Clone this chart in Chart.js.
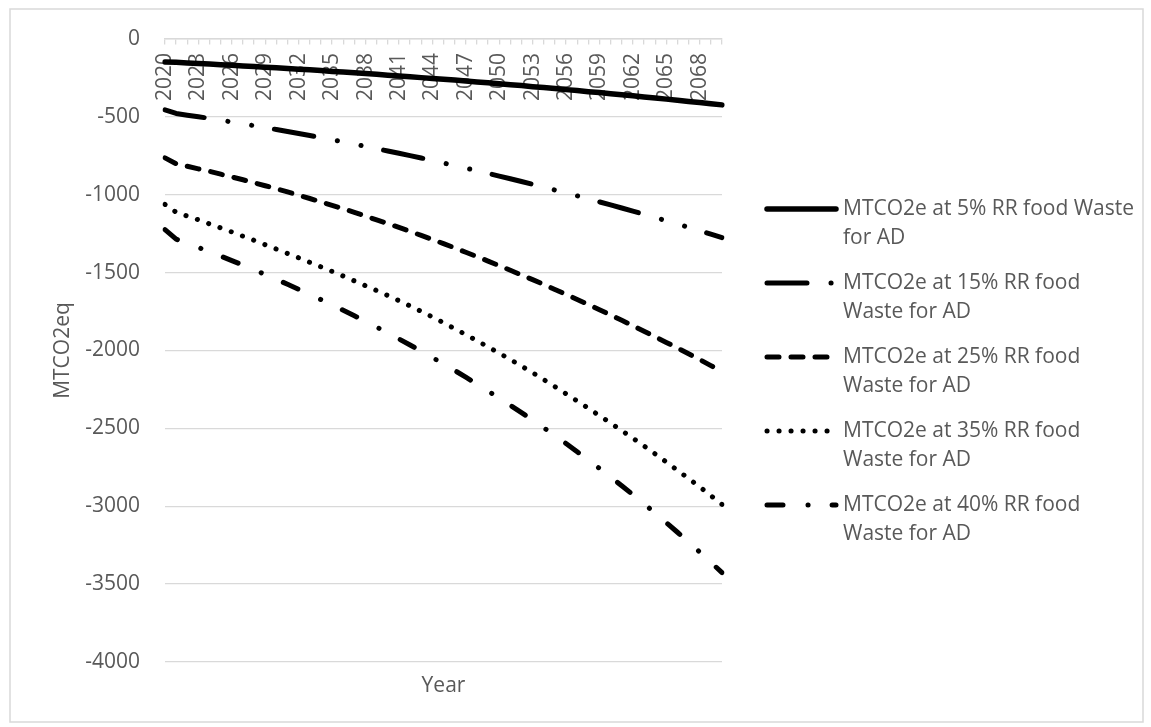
<!DOCTYPE html>
<html>
<head>
<meta charset="utf-8">
<script src="https://cdn.jsdelivr.net/npm/chart.js@4.4.1/dist/chart.umd.min.js"></script>
<style>
  body { margin: 0; background: #fff; }
</style>
</head>
<body>
<canvas id="emissions" width="1151" height="727"></canvas>
<script>
const years = ['2020', '2021', '2022', '2023', '2024', '2025', '2026', '2027', '2028', '2029',
  '2030', '2031', '2032', '2033', '2034', '2035', '2036', '2037', '2038', '2039',
  '2040', '2041', '2042', '2043', '2044', '2045', '2046', '2047', '2048', '2049',
  '2050', '2051', '2052', '2053', '2054', '2055', '2056', '2057', '2058', '2059',
  '2060', '2061', '2062', '2063', '2064', '2065', '2066', '2067', '2068', '2069', '2070'];

const seriesNames = [
  ['MTCO2e at 5% RR food Waste', 'for AD'],
  ['MTCO2e at 15% RR food', 'Waste for AD'],
  ['MTCO2e at 25% RR food', 'Waste for AD'],
  ['MTCO2e at 35% RR food', 'Waste for AD'],
  ['MTCO2e at 40% RR food', 'Waste for AD']
];

const rr5 = [-147, -150, -154, -158, -161, -165, -169, -173, -177, -181,
  -185, -190, -194, -198, -203, -208, -212, -217, -222, -227,
  -232, -237, -242, -248, -253, -259, -264, -270, -276, -281,
  -287, -293, -299, -306, -312, -318, -325, -331, -338, -344,
  -351, -358, -365, -372, -379, -386, -393, -401, -408, -416, -423];

const rr15 = [-455, -478, -489, -499, -510, -521, -533, -545, -557, -569,
  -581, -594, -607, -620, -633, -647, -661, -675, -689, -704,
  -719, -734, -749, -764, -780, -796, -813, -829, -846, -863,
  -880, -897, -915, -933, -951, -970, -988, -1007, -1026, -1046,
  -1065, -1085, -1105, -1126, -1146, -1167, -1188, -1209, -1231, -1253, -1275];

const rr25 = [-763, -801, -817, -834, -850, -868, -886, -904, -923, -942,
  -962, -982, -1003, -1024, -1046, -1068, -1090, -1113, -1137, -1161,
  -1185, -1210, -1235, -1261, -1287, -1314, -1341, -1369, -1397, -1426,
  -1455, -1485, -1515, -1545, -1576, -1608, -1640, -1672, -1705, -1738,
  -1772, -1806, -1841, -1876, -1912, -1948, -1984, -2021, -2058, -2097, -2135];

const rr35 = [-1062, -1112, -1137, -1161, -1187, -1213, -1239, -1266, -1293, -1321,
  -1349, -1377, -1405, -1434, -1463, -1492, -1522, -1553, -1584, -1615,
  -1647, -1680, -1714, -1749, -1785, -1822, -1860, -1898, -1937, -1977,
  -2017, -2058, -2100, -2143, -2187, -2232, -2278, -2324, -2371, -2418,
  -2466, -2514, -2563, -2613, -2664, -2716, -2769, -2822, -2876, -2932, -2988];

const rr40 = [-1224, -1285, -1312, -1339, -1366, -1394, -1423, -1452, -1482, -1512,
  -1543, -1575, -1607, -1639, -1673, -1707, -1742, -1777, -1813, -1850,
  -1887, -1926, -1965, -2004, -2045, -2086, -2128, -2171, -2215, -2260,
  -2305, -2352, -2399, -2447, -2496, -2546, -2597, -2650, -2703, -2757,
  -2812, -2868, -2926, -2984, -3044, -3105, -3167, -3230, -3294, -3360, -3426];

const yMin = -4000;
const yMax = 0;
const yStep = 500;
const labelEvery = 3;

const gray = '#595959';
const gridGray = '#d9d9d9';
const font = 'Open Sans';

function makeSet(names, data, dash, width) {
  return {
    label: names.join(' '),
    legendLines: names,
    data: data,
    borderColor: '#000',
    backgroundColor: '#000',
    borderWidth: width,
    borderDash: dash,
    borderCapStyle: 'round',
    borderJoinStyle: 'round',
    pointRadius: 0,
    tension: 0,
    fill: false
  };
}

// border round the whole picture, like the excel chart frame
const frame = {
  id: 'frame',
  beforeDraw(chart) {
    const ctx = chart.ctx;
    ctx.save();
    ctx.fillStyle = '#fff';
    ctx.fillRect(0, 0, chart.width, chart.height);
    ctx.strokeStyle = gridGray;
    ctx.lineWidth = 1.5;
    ctx.strokeRect(10, 9, 1133, 713);
    ctx.restore();
  }
};

// legend on the right with wrapped labels
const sideLegend = {
  id: 'sideLegend',
  afterDraw(chart) {
    const ctx = chart.ctx;
    ctx.save();
    ctx.font = '21px "' + font + '"';
    ctx.fillStyle = gray;
    ctx.textBaseline = 'middle';
    chart.data.datasets.forEach((ds, i) => {
      const y = 209 + i * 74;
      ctx.save();
      ctx.strokeStyle = '#000';
      ctx.lineWidth = ds.borderWidth;
      ctx.lineCap = 'round';
      ctx.setLineDash(ds.borderDash);
      ctx.beginPath();
      ctx.moveTo(767, y);
      ctx.lineTo(836, y);
      ctx.stroke();
      ctx.restore();
      ds.legendLines.forEach((t, j) => ctx.fillText(t, 843, y + j * 29.5));
    });
    ctx.restore();
  }
};

const ctx = document.getElementById('emissions');

new Chart(ctx, {
  type: 'line',
  data: {
    labels: years,
    datasets: [
      makeSet(seriesNames[0], rr5, [], 5.5),
      makeSet(seriesNames[1], rr15, [40, 24, 0.1, 24, 0.1, 23], 5),
      makeSet(seriesNames[2], rr25, [12, 12], 5),
      makeSet(seriesNames[3], rr35, [0.1, 11.9], 5),
      makeSet(seriesNames[4], rr40, [16, 25, 0.1, 24], 5)
    ]
  },
  options: {
    responsive: false,
    animation: false,
    layout: { padding: { top: 39, right: 429, bottom: 0, left: 0 } },
    plugins: {
      legend: { display: false },
      tooltip: { enabled: false }
    },
    scales: {
      x: {
        type: 'category',
        position: { y: 0 },
        offset: false,
        grid: { display: true, drawOnChartArea: false, drawTicks: true, tickLength: 5, color: gridGray, lineWidth: 1.3 },
        border: { display: true, color: gridGray, width: 1.5 },
        ticks: {
          autoSkip: false,
          minRotation: 90,
          maxRotation: 90,
          padding: 9,
          color: gray,
          font: { family: font, size: 21 },
          callback: function(v, i) { return i % labelEvery === 0 ? years[i] : ''; }
        }
      },
      x2: {
        type: 'category',
        position: 'bottom',
        grid: { display: false },
        border: { display: false },
        ticks: { display: false },
        title: { display: true, text: 'Year', color: gray, font: { family: font, size: 21 }, padding: { top: 0, bottom: 28 } },
        afterFit: function(scale) { scale.height = 65; }
      },
      y: {
        min: yMin,
        max: yMax,
        ticks: {
          stepSize: yStep,
          padding: 25,
          color: gray,
          font: { family: font, size: 21 },
          callback: function(v) { return String(v); }
        },
        grid: { color: gridGray, lineWidth: 1.3, drawTicks: false },
        border: { display: false },
        title: { display: true, text: 'MTCO2eq', color: gray, font: { family: font, size: 21 }, padding: { top: 50, bottom: 0 } },
        afterFit: function(scale) { scale.width = 165; }
      }
    }
  },
  plugins: [frame, sideLegend]
});
</script>
</body>
</html>
